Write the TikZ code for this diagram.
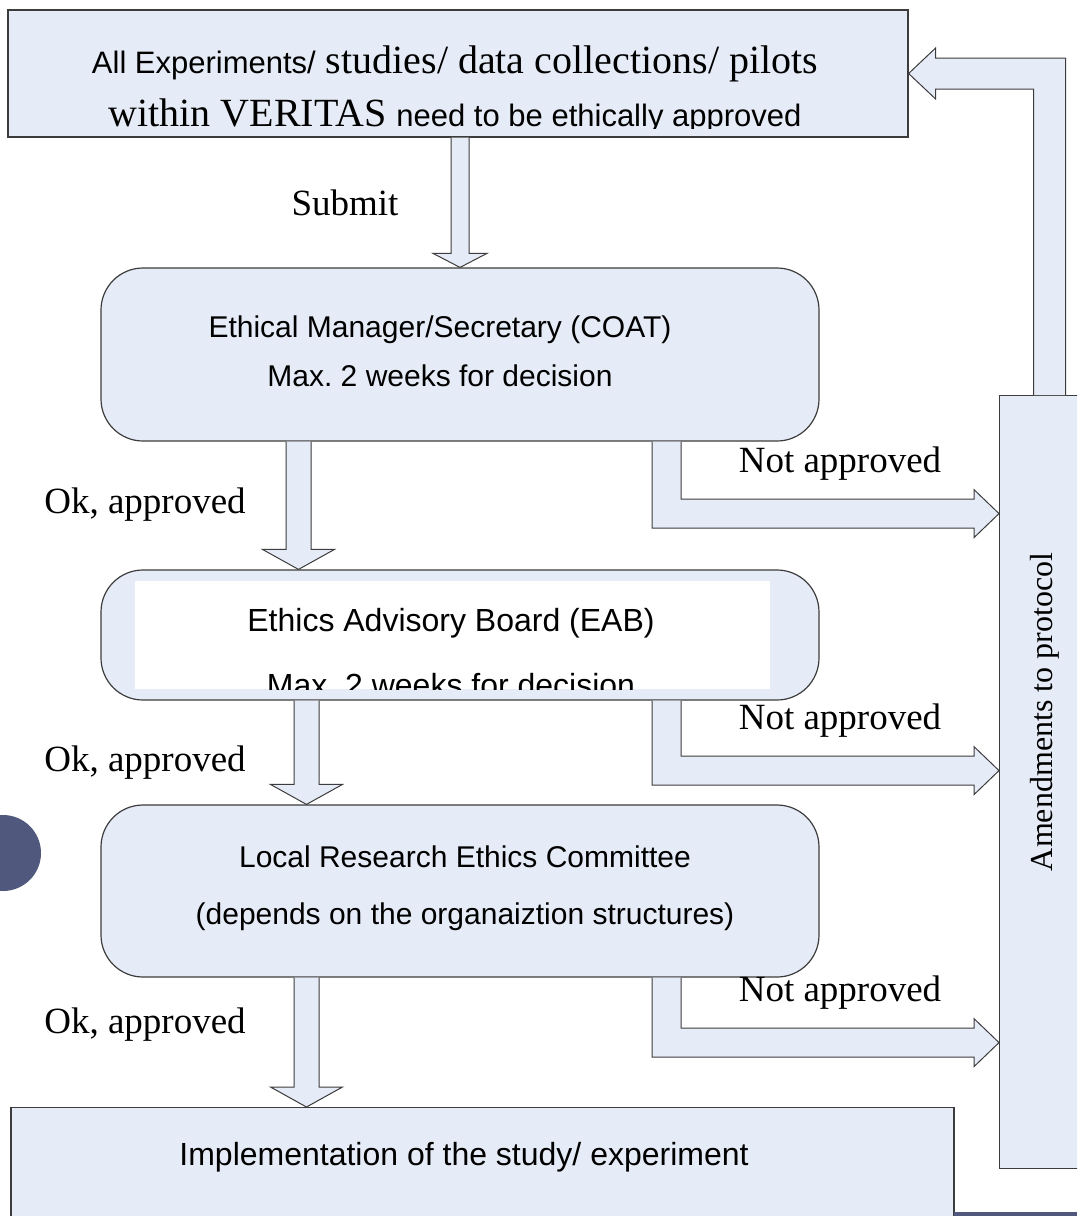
\documentclass[tikz,border=0pt]{standalone}
\usepackage{fontspec}
\setmainfont{Liberation Serif}
\newfontfamily\arialfont{Liberation Sans}
\usetikzlibrary{calc}
\frenchspacing
\definecolor{boxblue}{RGB}{230,236,247}
\definecolor{edgegray}{RGB}{60,60,60}
\definecolor{slateblue}{RGB}{80,88,125}
\tikzset{
  flatbox/.style={draw=edgegray, fill=boxblue, line width=1.2pt, inner sep=0pt},
  roundbox/.style={flatbox, rounded corners=42pt, minimum width=718pt},
  blockarrow/.style={draw=edgegray, fill=boxblue, line width=1pt, line join=miter},
  sanstext/.style={font=\arialfont\fontsize{30}{#1}\selectfont, inner sep=0pt, align=center},
  sanstext/.default=34,
  seriflabel/.style={font=\fontsize{37}{40}\selectfont, inner sep=0pt}
}
\begin{document}
\begin{tikzpicture}[x=1pt, y=-1pt]
  \clip (0,0) rectangle (1077,1216);
  \node [flatbox, minimum width=900pt, minimum height=127pt] (top) at (458,73.5) {};
  \node [roundbox, minimum height=173pt] (coat) at (460,354.5) {};
  \node [roundbox, minimum height=130pt] (eab) at (460,635) {};
  \node [roundbox, minimum height=172pt] (lrec) at (460,891) {};
  \node [flatbox, minimum width=943pt, minimum height=140pt, anchor=north] (impl) at (482.5,1107) {};
  \node [flatbox, minimum width=100pt, minimum height=773pt, anchor=north west] (amend) at (999,395) {};

  % box texts
  \begin{scope}
    \clip (top.north west) rectangle ($(top.south east)+(0,-9)$);
    \node [seriflabel, anchor=base, font=\fontsize{40}{44}\selectfont] (topline1) at (455,73) {{\arialfont\fontsize{31}{34}\selectfont All Experiments/} studies/ data collections/ pilots};
    \node [seriflabel, anchor=base, font=\fontsize{40}{44}\selectfont] (topline2) at (455,126) {within VERITAS {\arialfont\fontsize{31}{34}\selectfont need to be ethically approved}};
  \end{scope}
  \node [sanstext=49] (coattext) at (440,351) {Ethical Manager/Secretary (COAT)\\Max. 2 weeks for decision};
  \fill [white] (135,581) rectangle (770,689);
  \begin{scope}
    \clip (135,581) rectangle (770,689);
    \node [sanstext, anchor=base, font=\arialfont\fontsize{32}{36}\selectfont] (eabline1) at (451,631) {Ethics Advisory Board (EAB)};
    \node [sanstext, anchor=base, font=\arialfont\fontsize{32}{36}\selectfont] (eabline2) at (451,696) {Max. 2 weeks for decision};
  \end{scope}
  \node [sanstext=57] (lrectext) at (465,888) {Local Research Ethics Committee\\(depends on the organaiztion structures)};
  \node [sanstext, font=\arialfont\fontsize{32}{36}\selectfont] (impltext) at (464,1157) {Implementation of the study/ experiment};
  \node [seriflabel, rotate=90, font=\fontsize{32}{36}\selectfont] (amendtext) at (1045,712) {Amendments to protocol};

  % downward arrows
  \foreach \src/\dst/\cx/\sw/\hw/\hl in {top/coat/460/9/27/14, coat/eab/298.5/12.5/36/20,
      eab/lrec/306.5/12.5/36/20, lrec/impl/306.5/12.5/36/20} {
    \coordinate (p) at (\cx,0 |- \src.south);
    \coordinate (q) at (\cx,0 |- \dst.north);
    \draw [blockarrow] ($(p)+(-\sw,0)$) -- ($(q)+(-\sw,-\hl)$) -- ($(q)+(-\hw,-\hl)$) -- (q)
      -- ($(q)+(\hw,-\hl)$) -- ($(q)+(\sw,-\hl)$) -- ($(p)+(\sw,0)$);
  }
  % not approved -> amendments
  \foreach \src/\off in {coat/72, eab/70, lrec/65} {
    \coordinate (s) at (666.5,0 |- \src.south);
    \coordinate (t) at ($(amend.west |- s)+(0,\off)$);
    \draw [blockarrow] ($(s)+(-14.5,0)$) -- ($(s |- t)+(-14.5,14.5)$) -- ($(t)+(-25,14.5)$)
      -- ($(t)+(-25,24)$) -- (t) -- ($(t)+(-25,-24)$) -- ($(t)+(-25,-14.5)$)
      -- ($(s |- t)+(14.5,-14.5)$) -- ($(s)+(14.5,0)$);
    \node [seriflabel] (na-\src) at ($(t)+(-159,-50)$) {Not approved};
  }
  % amendments back to the top
  \draw [blockarrow] ($(amend.north)+(-16,0)$) -- ($(amend.north |- top.east)+(-16,15.5)$)
    -- ($(top.east)+(27,15.5)$) -- ($(top.east)+(27,25.5)$) -- (top.east)
    -- ($(top.east)+(27,-25.5)$) -- ($(top.east)+(27,-15.5)$)
    -- ($(amend.north |- top.east)+(16,-15.5)$) -- ($(amend.north)+(16,0)$);

  \node [seriflabel] (submit) at (345,203) {Submit};
  \node [seriflabel] (ok1) at (145,505) {Ok, approved};
  \node [seriflabel] (ok2) at (145,763) {Ok, approved};
  \node [seriflabel] (ok3) at (145,1025) {Ok, approved};

  \fill [slateblue] (3,853) circle [radius=38pt];
  \fill [slateblue] (954,1212) rectangle (1077,1216);
\end{tikzpicture}
\end{document}
